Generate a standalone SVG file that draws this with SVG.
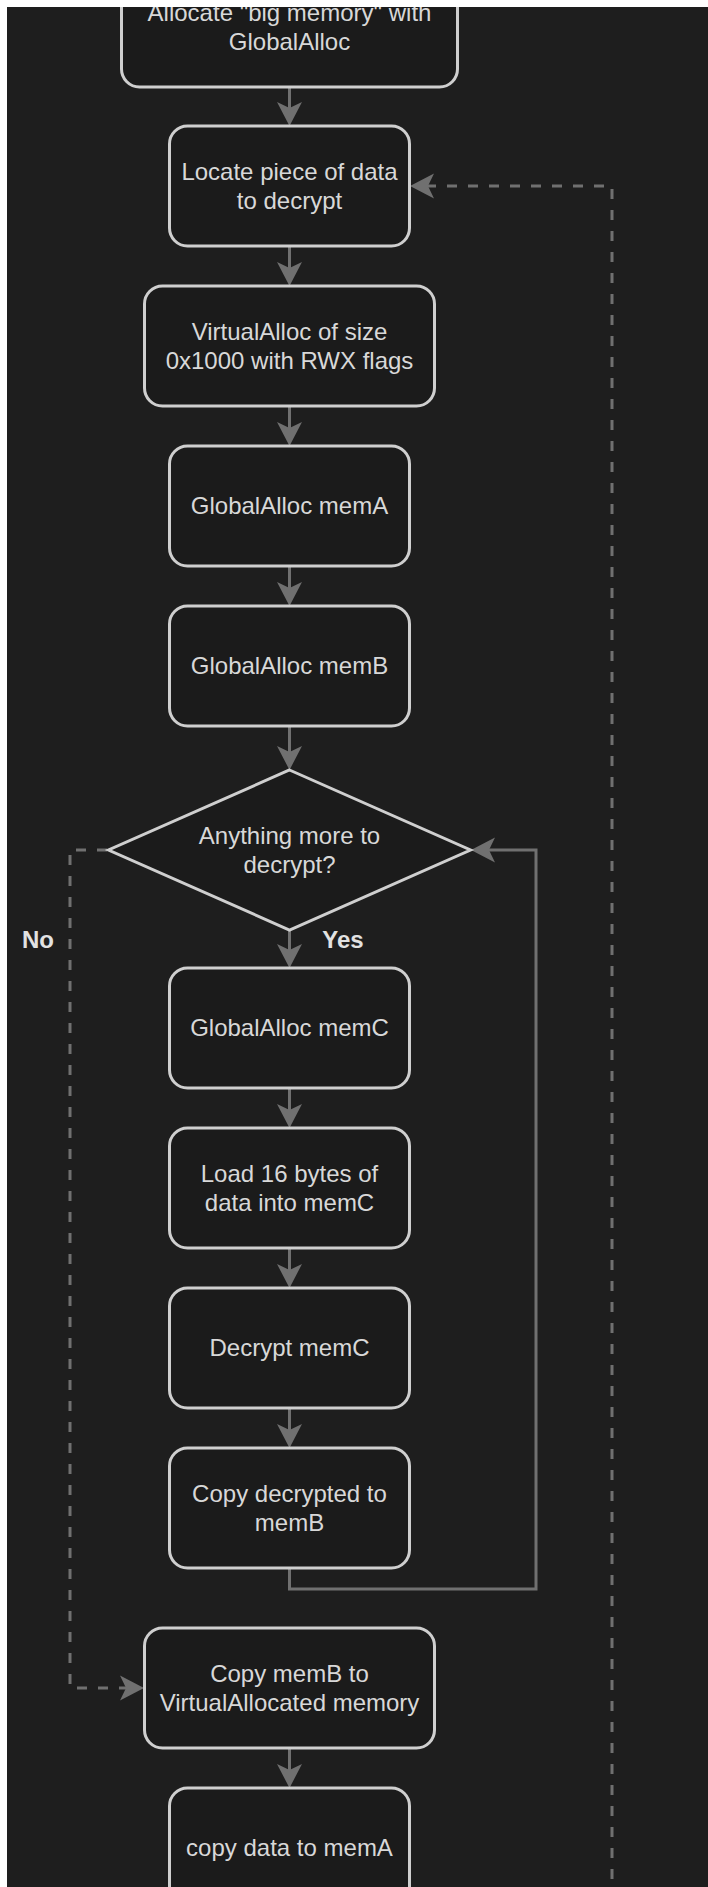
<svg xmlns="http://www.w3.org/2000/svg" width="708" height="1887" viewBox="0 0 708 1887">
<style>
.node rect,.node polygon{fill:#1b1b1b;stroke:#cfcfcf;stroke-width:3}
.node text,.lbl{font-family:"Liberation Sans",Arial,Helvetica,sans-serif;font-size:24px;fill:#d8d8d8;text-anchor:middle}
.lbl{font-weight:bold;fill:#e2e2e2}
.edge{fill:none;stroke:#707070;stroke-width:3}
.dash{stroke-dasharray:10 11}
</style>
<defs>
<marker id="arr" viewBox="-25 -14 27 28" refX="-18" refY="0" markerWidth="27" markerHeight="28" markerUnits="userSpaceOnUse" orient="auto">
<path d="M0,0 L-24,-12.5 L-18,0 L-24,12.5 Z" fill="#707070"/>
</marker>
</defs>
<rect x="0" y="0" width="708" height="1887" fill="#1e1e1e"/>
<g id="connectors">
<path class="edge" d="M289.5,87 V108" marker-end="url(#arr)"/>
<path class="edge" d="M289.5,246 V268" marker-end="url(#arr)"/>
<path class="edge" d="M289.5,406 V428" marker-end="url(#arr)"/>
<path class="edge" d="M289.5,566 V588" marker-end="url(#arr)"/>
<path class="edge" d="M289.5,726 V752" marker-end="url(#arr)"/>
<path class="edge" d="M289.5,930 V950" marker-end="url(#arr)"/>
<path class="edge" d="M289.5,1088 V1110" marker-end="url(#arr)"/>
<path class="edge" d="M289.5,1248 V1270" marker-end="url(#arr)"/>
<path class="edge" d="M289.5,1408 V1430" marker-end="url(#arr)"/>
<path class="edge" d="M289.5,1748 V1770" marker-end="url(#arr)"/>
<path class="edge" d="M289.5,1568 V1589 H536 V850 H489" marker-end="url(#arr)"/>
<path class="edge dash" d="M107,850 H70 V1688 H126" marker-end="url(#arr)"/>
<path class="edge dash" d="M612,1900 V186 H428" marker-end="url(#arr)"/>
</g>
<g id="n1" class="node"><rect x="121.5" y="-33" width="336" height="120" rx="18"/><text x="289.5" y="21">Allocate "big memory" with</text><text x="289.5" y="49.7">GlobalAlloc</text></g>
<g id="n2" class="node"><rect x="169.5" y="126" width="240" height="120" rx="18"/><text x="289.5" y="180">Locate piece of data</text><text x="289.5" y="208.7">to decrypt</text></g>
<g id="n3" class="node"><rect x="144.5" y="286" width="290" height="120" rx="18"/><text x="289.5" y="340">VirtualAlloc of size</text><text x="289.5" y="368.7">0x1000 with RWX flags</text></g>
<g id="n4" class="node"><rect x="169.5" y="446" width="240" height="120" rx="18"/><text x="289.5" y="514.3">GlobalAlloc memA</text></g>
<g id="n5" class="node"><rect x="169.5" y="606" width="240" height="120" rx="18"/><text x="289.5" y="674.3">GlobalAlloc memB</text></g>
<g id="n6" class="node"><polygon points="289.5,770 470.5,850 289.5,930 108.5,850"/><text x="289.5" y="844">Anything more to</text><text x="289.5" y="872.7">decrypt?</text></g>
<g id="n7" class="node"><rect x="169.5" y="968" width="240" height="120" rx="18"/><text x="289.5" y="1036.3">GlobalAlloc memC</text></g>
<g id="n8" class="node"><rect x="169.5" y="1128" width="240" height="120" rx="18"/><text x="289.5" y="1182">Load 16 bytes of</text><text x="289.5" y="1210.7">data into memC</text></g>
<g id="n9" class="node"><rect x="169.5" y="1288" width="240" height="120" rx="18"/><text x="289.5" y="1356.3">Decrypt memC</text></g>
<g id="n10" class="node"><rect x="169.5" y="1448" width="240" height="120" rx="18"/><text x="289.5" y="1502">Copy decrypted to</text><text x="289.5" y="1530.7">memB</text></g>
<g id="n11" class="node"><rect x="144.5" y="1628" width="290" height="120" rx="18"/><text x="289.5" y="1682">Copy memB to</text><text x="289.5" y="1710.7">VirtualAllocated memory</text></g>
<g id="n12" class="node"><rect x="169.5" y="1788" width="240" height="120" rx="18"/><text x="289.5" y="1856.3">copy data to memA</text></g>
<g id="labels"><text class="lbl" x="38" y="948">No</text><text class="lbl" x="343" y="948">Yes</text></g>
<rect x="0" y="0" width="708" height="7" fill="#ffffff"/>
<rect x="0" y="0" width="7" height="1887" fill="#ffffff"/>
</svg>
